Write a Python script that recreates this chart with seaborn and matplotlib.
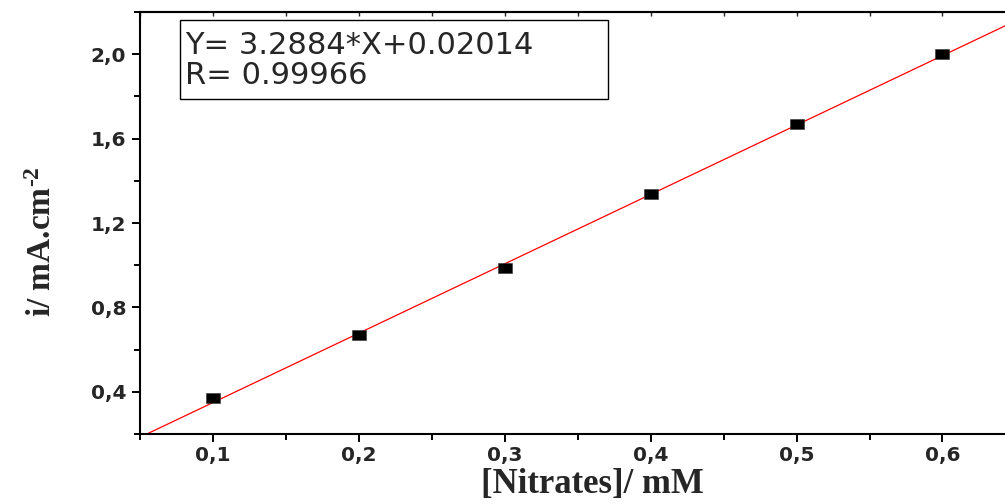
import numpy as np
import pandas as pd
import matplotlib
matplotlib.use("Agg")
import matplotlib.pyplot as plt
from matplotlib.patches import Rectangle
from matplotlib.ticker import MultipleLocator
import seaborn as sns

# ---- data ----
nitrates_mM = [0.1, 0.2, 0.3, 0.4, 0.5, 0.6]
current_mA_cm2 = [0.372, 0.669, 0.986, 1.337, 1.668, 2.000]
fit_slope = 3.2884
fit_intercept = 0.02014
fit_R = 0.99966
x_ticks = [0.1, 0.2, 0.3, 0.4, 0.5, 0.6]
x_tick_labels = ["0,1", "0,2", "0,3", "0,4", "0,5", "0,6"]
y_ticks = [0.4, 0.8, 1.2, 1.6, 2.0]
y_tick_labels = ["0,4", "0,8", "1,2", "1,6", "2,0"]
x_label = "[Nitrates]/ mM"
y_label = "i/ mA.cm$^{\\text{-2}}$"

XLIM = (0.05, 0.67)
YLIM = (0.2, 2.2)

sns.set_style("white")
plt.rcParams["font.family"] = ["DejaVu Sans"]
plt.rcParams["mathtext.fontset"] = "custom"
plt.rcParams["mathtext.rm"] = "Liberation Serif:bold"
plt.rcParams["mathtext.bf"] = "Liberation Serif:bold"
plt.rcParams["mathtext.it"] = "Liberation Serif:bold"

W, H = 1005, 504
fig = plt.figure(figsize=(W / 100, H / 100), dpi=100)
ax_left, ax_top, ax_bottom = 140, 12, 434
px_per_x = 1459.0
ax_w = (XLIM[1] - XLIM[0]) * px_per_x
ax = fig.add_axes([ax_left / W, 1 - ax_bottom / H, ax_w / W, (ax_bottom - ax_top) / H])

df = pd.DataFrame({"x": nitrates_mM, "y": current_mA_cm2})

# fitted line over the full x range
x_fit = np.array(XLIM)
fit_df = pd.DataFrame({"x": x_fit, "y": fit_slope * x_fit + fit_intercept})
sns.lineplot(data=fit_df, x="x", y="y", ax=ax, color="#ff0000", linewidth=0.9, zorder=2)

rect_marker = [(-6.5, -4.5), (6.5, -4.5), (6.5, 4.5), (-6.5, 4.5), (-6.5, -4.5)]
sns.scatterplot(data=df, x="x", y="y", ax=ax, marker=rect_marker, s=92,
                color="black", edgecolor="#333333", linewidth=0.4, zorder=3)

ax.set_xlim(*XLIM)
ax.set_ylim(*YLIM)

ax.set_xticks(x_ticks)
ax.set_xticklabels(x_tick_labels)
ax.set_yticks(y_ticks)
ax.set_yticklabels(y_tick_labels)
ax.xaxis.set_minor_locator(MultipleLocator(0.05))
ax.yaxis.set_minor_locator(MultipleLocator(0.2))

for lab in ax.get_xticklabels() + ax.get_yticklabels():
    lab.set_fontweight("bold")
    lab.set_fontsize(14.5)
    lab.set_family("DejaVu Sans")

ax.tick_params(axis="both", which="major", direction="out", length=6, width=1.4,
               color="black", pad=4)
ax.tick_params(axis="x", which="major", pad=3)
ax.tick_params(axis="both", which="minor", direction="out", length=4, width=1.4,
               color="black")
ax.tick_params(axis="x", bottom=True, which="both")
ax.tick_params(axis="y", left=True, which="both")

for sp in ax.spines.values():
    sp.set_linewidth(1.5)
    sp.set_color("black")

# top axis with inward ticks
top = ax.secondary_xaxis("top")
top.set_xticks(x_ticks)
top.xaxis.set_minor_locator(MultipleLocator(0.05))
top.tick_params(axis="x", which="both", direction="in", length=3, width=1.0,
                labeltop=False)
top.spines["top"].set_linewidth(1.5)

ax.set_xlabel(x_label, family="Liberation Serif", fontweight="bold", fontsize=25)
ax.xaxis.set_label_coords((592 - ax_left) / ax_w, (ax_bottom - 484) / (ax_bottom - ax_top))
ax.xaxis.label.set_verticalalignment("center")

ax.set_ylabel(y_label, family="Liberation Serif", fontweight="bold", fontsize=24)
ax.yaxis.set_label_coords((42 - ax_left) / ax_w, (ax_bottom - 242) / (ax_bottom - ax_top))
ax.yaxis.label.set_verticalalignment("center")

# annotation box
hh = ax_bottom - ax_top
ax.add_patch(Rectangle(((180 - ax_left) / ax_w, (ax_bottom - 99) / hh),
                       428 / ax_w, 79 / hh, transform=ax.transAxes,
                       fill=False, edgecolor="black", linewidth=1.0, zorder=4))
ax.text((185 - ax_left) / ax_w, (ax_bottom - 45) / hh,
        f"Y= {fit_slope}*X+{fit_intercept}", transform=ax.transAxes,
        ha="left", va="center", fontsize=22, family="DejaVu Sans", zorder=5)
ax.text((185 - ax_left) / ax_w, (ax_bottom - 75) / hh,
        f"R= {fit_R}", transform=ax.transAxes,
        ha="left", va="center", fontsize=22, family="DejaVu Sans", zorder=5)

ax.grid(False)
fig.savefig("out.png", dpi=100)
